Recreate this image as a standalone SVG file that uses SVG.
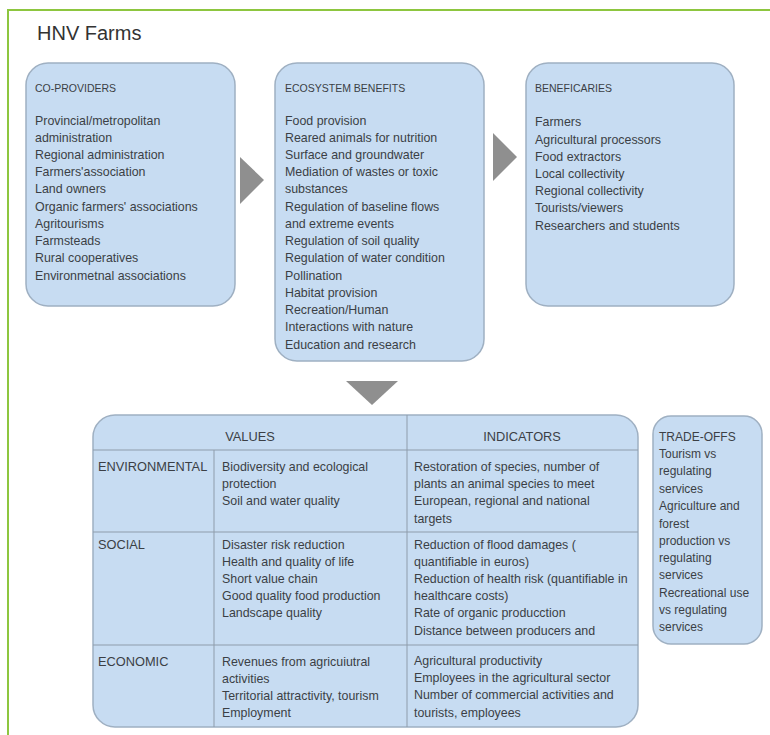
<svg xmlns="http://www.w3.org/2000/svg" width="770" height="735" viewBox="0 0 770 735">
  <defs>
    <style>
      .frame { stroke: #8dc63f; stroke-width: 2; fill: none; }
      .box { fill: #c7dcf2; stroke: #9fb0c2; stroke-width: 1.5; }
      .grid { stroke: #8e9cab; stroke-width: 1; fill: none; }
      .arrow { fill: #8f8f8f; }
      text { font-family: "Liberation Sans", Arial, sans-serif; fill: #3b3f45; }
      .title { font-size: 20px; fill: #333; }
      .hd { font-size: 10.5px; }
      .tx { font-size: 12.4px; }
      .th { font-size: 12.8px; }
    </style>
  </defs>

  <rect width="770" height="735" fill="#ffffff"/>

  <!-- outer frame: top and left edges only -->
  <path class="frame" d="M8,735 V10 H770"/>

  <text class="title" x="37" y="40">HNV Farms</text>

  <!-- CO-PROVIDERS -->
  <g id="co-providers">
    <rect class="box" x="26" y="63" width="209" height="243" rx="22"/>
    <text class="hd" x="35" y="92">CO-PROVIDERS</text>
    <text class="tx">
      <tspan x="35" y="125">Provincial/metropolitan</tspan>
      <tspan x="35" y="142">administration</tspan>
      <tspan x="35" y="159">Regional administration</tspan>
      <tspan x="35" y="176">Farmers'association</tspan>
      <tspan x="35" y="193">Land owners</tspan>
      <tspan x="35" y="211">Organic farmers' associations</tspan>
      <tspan x="35" y="228">Agritourisms</tspan>
      <tspan x="35" y="245">Farmsteads</tspan>
      <tspan x="35" y="262">Rural cooperatives</tspan>
      <tspan x="35" y="280">Environmetnal associations</tspan>
    </text>
  </g>

  <!-- ECOSYSTEM BENEFITS -->
  <g id="ecosystem-benefits">
    <rect class="box" x="275" y="63" width="209" height="298" rx="22"/>
    <text class="hd" x="285" y="92">ECOSYSTEM BENEFITS</text>
    <text class="tx">
      <tspan x="285" y="125">Food provision</tspan>
      <tspan x="285" y="142">Reared animals for nutrition</tspan>
      <tspan x="285" y="159">Surface and groundwater</tspan>
      <tspan x="285" y="176">Mediation of wastes or toxic</tspan>
      <tspan x="285" y="193">substances</tspan>
      <tspan x="285" y="211">Regulation of baseline flows</tspan>
      <tspan x="285" y="228">and extreme events</tspan>
      <tspan x="285" y="245">Regulation of soil quality</tspan>
      <tspan x="285" y="262">Regulation of water condition</tspan>
      <tspan x="285" y="280">Pollination</tspan>
      <tspan x="285" y="297">Habitat provision</tspan>
      <tspan x="285" y="314">Recreation/Human</tspan>
      <tspan x="285" y="331">Interactions with nature</tspan>
      <tspan x="285" y="349">Education and research</tspan>
    </text>
  </g>

  <!-- BENEFICARIES -->
  <g id="beneficiaries">
    <rect class="box" x="526" y="63" width="208" height="243" rx="22"/>
    <text class="hd" x="535" y="92">BENEFICARIES</text>
    <text class="tx">
      <tspan x="535" y="126">Farmers</tspan>
      <tspan x="535" y="144">Agricultural processors</tspan>
      <tspan x="535" y="161">Food extractors</tspan>
      <tspan x="535" y="178">Local collectivity</tspan>
      <tspan x="535" y="195">Regional collectivity</tspan>
      <tspan x="535" y="212">Tourists/viewers</tspan>
      <tspan x="535" y="230">Researchers and students</tspan>
    </text>
  </g>

  <!-- flow arrows -->
  <g id="connectors">
    <polygon class="arrow" points="240,157 264,180 240,204"/>
    <polygon class="arrow" points="493,133 517,157 493,181"/>
    <polygon class="arrow" points="346,381 398,381 372,405"/>
  </g>

  <!-- VALUES / INDICATORS table -->
  <g id="values-indicators">
    <rect class="box" x="93" y="415" width="545" height="312" rx="22"/>
    <line class="grid" x1="93" y1="450" x2="638" y2="450"/>
    <line class="grid" x1="93" y1="532" x2="638" y2="532"/>
    <line class="grid" x1="93" y1="645" x2="638" y2="645"/>
    <line class="grid" x1="407" y1="415" x2="407" y2="727"/>
    <line class="grid" x1="214" y1="450" x2="214" y2="727"/>

    <text class="th" x="250" y="441" text-anchor="middle">VALUES</text>
    <text class="th" x="522" y="441" text-anchor="middle">INDICATORS</text>

    <text class="th" x="98" y="471">ENVIRONMENTAL</text>
    <text class="th" x="98" y="549">SOCIAL</text>
    <text class="th" x="98" y="666">ECONOMIC</text>

    <text class="tx">
      <tspan x="222" y="471">Biodiversity and ecological</tspan>
      <tspan x="222" y="488">protection</tspan>
      <tspan x="222" y="505">Soil and water quality</tspan>

      <tspan x="222" y="549">Disaster risk reduction</tspan>
      <tspan x="222" y="566">Health and quality of life</tspan>
      <tspan x="222" y="583">Short value chain</tspan>
      <tspan x="222" y="600">Good quality food production</tspan>
      <tspan x="222" y="617">Landscape quality</tspan>

      <tspan x="222" y="666">Revenues from agricuiutral</tspan>
      <tspan x="222" y="683">activities</tspan>
      <tspan x="222" y="700">Territorial attractivity, tourism</tspan>
      <tspan x="222" y="717">Employment</tspan>
    </text>

    <text class="tx">
      <tspan x="414" y="471">Restoration of species, number of</tspan>
      <tspan x="414" y="488">plants an animal species to meet</tspan>
      <tspan x="414" y="505">European, regional and national</tspan>
      <tspan x="414" y="523">targets</tspan>

      <tspan x="414" y="549">Reduction of flood damages (</tspan>
      <tspan x="414" y="566">quantifiable in euros)</tspan>
      <tspan x="414" y="583">Reduction of health risk (quantifiable in</tspan>
      <tspan x="414" y="600">healthcare costs)</tspan>
      <tspan x="414" y="617">Rate of organic producction</tspan>
      <tspan x="414" y="635">Distance between producers and</tspan>

      <tspan x="414" y="665">Agricultural productivity</tspan>
      <tspan x="414" y="682">Employees in the agricultural sector</tspan>
      <tspan x="414" y="699">Number of commercial activities and</tspan>
      <tspan x="414" y="717">tourists, employees</tspan>
    </text>
  </g>

  <!-- TRADE-OFFS -->
  <g id="trade-offs">
    <rect class="box" x="653" y="416" width="109" height="228" rx="18"/>
    <text class="tx" style="font-size:12px">
      <tspan x="659" y="441">TRADE-OFFS</tspan>
      <tspan x="659" y="458">Tourism vs</tspan>
      <tspan x="659" y="475">regulating</tspan>
      <tspan x="659" y="493">services</tspan>
      <tspan x="659" y="510">Agriculture and</tspan>
      <tspan x="659" y="528">forest</tspan>
      <tspan x="659" y="545">production vs</tspan>
      <tspan x="659" y="562">regulating</tspan>
      <tspan x="659" y="579">services</tspan>
      <tspan x="659" y="597">Recreational use</tspan>
      <tspan x="659" y="614">vs regulating</tspan>
      <tspan x="659" y="631">services</tspan>
    </text>
  </g>
</svg>
